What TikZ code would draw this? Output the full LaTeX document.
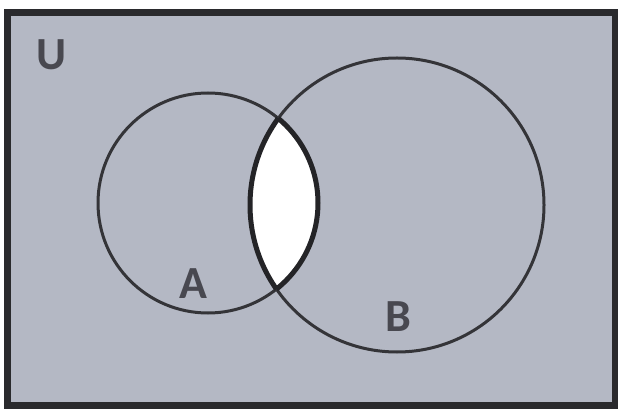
\documentclass[tikz,border=0pt]{standalone}
\usepackage{fontspec}
\setmainfont{Carlito}
\definecolor{bgfill}{RGB}{180,184,196}
\definecolor{linecol}{RGB}{52,52,56}
\definecolor{txtcol}{RGB}{72,72,80}
\begin{document}
\begin{tikzpicture}[x=1pt,y=-1pt,
  circ/.style={draw=linecol,line width=3pt},
  lbl/.style={text=txtcol,font=\fontsize{46}{46}\selectfont\bfseries,inner sep=0pt}]
\useasboundingbox (0,0) rectangle (618,411);
\fill[white] (0,0) rectangle (618,411);
\draw[draw=linecol!80!black,line width=7pt,fill=bgfill] (7.5,13) rectangle (615,405.5);
\begin{scope}
  \clip (208,203) circle (110);
  \fill[white] (397,205) circle (147);
\end{scope}
\draw[circ] (208,203) circle (110);
\draw[circ] (397,205) circle (147);
\begin{scope}
  \clip (208,203) circle (110);
  \draw[draw=linecol!70!black,line width=5pt] (397,205) circle (147);
\end{scope}
\begin{scope}
  \clip (397,205) circle (147);
  \draw[draw=linecol!70!black,line width=5pt] (208,203) circle (110);
\end{scope}
\node[lbl] (U) at (52,55) {U};
\node[lbl] (A) at (193,284) {A};
\node[lbl] (B) at (398,317) {B};
\end{tikzpicture}
\end{document}
